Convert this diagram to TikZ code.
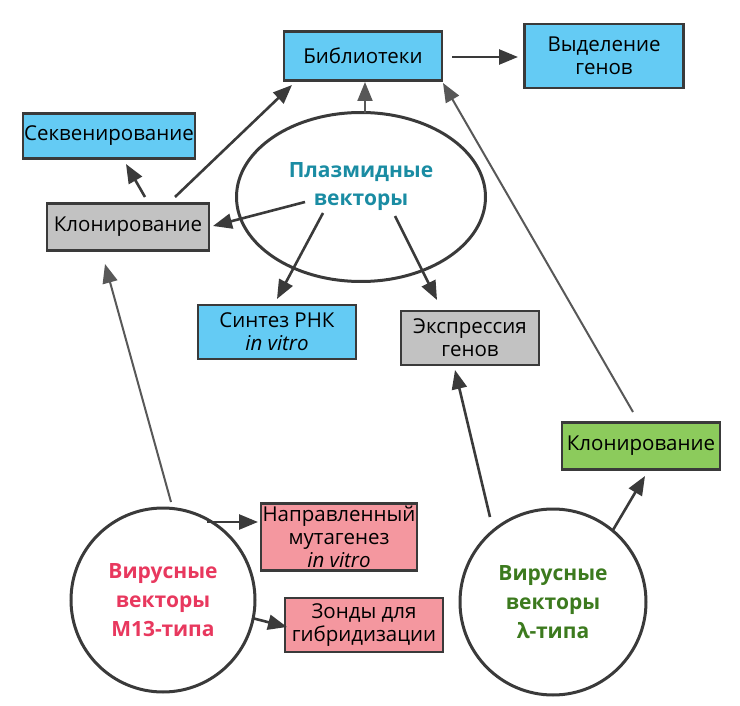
\documentclass[tikz,border=0pt]{standalone}
\usepackage{fontspec}
\setmainfont{Open Sans}
\usetikzlibrary{arrows.meta,shapes.geometric}
\definecolor{bluebox}{HTML}{64CBF4}
\definecolor{graybox}{HTML}{C2C2C2}
\definecolor{greenbox}{HTML}{8CCB5C}
\definecolor{pinkbox}{HTML}{F4979F}
\definecolor{edge}{HTML}{3A3A3A}
\definecolor{tealtxt}{HTML}{1A8CA3}
\definecolor{redtxt}{HTML}{E8385E}
\definecolor{greentxt}{HTML}{3C7A1E}
\begin{document}
\begin{tikzpicture}[x=1pt,y=-1pt,
  box/.style={draw=edge,line width=2.6pt,inner sep=0pt,align=center,
    font=\fontsize{20.5}{23}\selectfont},
  circ/.style={draw=edge,line width=3pt,circle,inner sep=0pt,align=center,
    font=\fontsize{21}{29}\selectfont\bfseries},
  arr/.style={draw=edge,line width=2.6pt,-{Triangle[length=19pt,width=15pt]}},
  thinarr/.style={draw=edge!85,line width=2pt,-{Triangle[length=19pt,width=15pt]}}]
\useasboundingbox (0,0) rectangle (740,706);
% nodes
\node[box,fill=bluebox,minimum width=158pt,minimum height=49pt] (lib) at (363,56) {Библиотеки};
\node[box,fill=bluebox,minimum width=159pt,minimum height=64pt] (vyd) at (604,56) {Выделение\\генов};
\node[box,fill=bluebox,minimum width=172pt,minimum height=45pt] (seq) at (109,136) {Секвенирование};
\node[box,fill=graybox,minimum width=162pt,minimum height=47pt] (klon) at (128,227) {Клонирование};
\node[draw=edge,line width=3pt,ellipse,minimum width=249pt,minimum height=169pt,inner sep=0pt,
  label={[font=\fontsize{21}{28}\selectfont\bfseries,text=tealtxt,align=center,yshift=10pt]center:Плазмидные\\векторы}] (plas) at (361,197) {};
\node[box,fill=bluebox,minimum width=158pt,minimum height=54pt] (sint) at (277,332) {Синтез РНК\\\itshape in vitro};
\node[box,fill=graybox,minimum width=138pt,minimum height=54pt] (expr) at (470,338) {Экспрессия\\генов};
\node[box,fill=greenbox,minimum width=158pt,minimum height=47pt] (klong) at (641,446) {Клонирование};
\node[circ,text=redtxt,minimum size=184pt] (m13) at (163,600) {Вирусные\\векторы\\М13-типа};
\node[box,fill=pinkbox,minimum width=156pt,minimum height=67pt] (mut) at (339,537) {Направленный\\мутагенез\\\itshape in vitro};
\node[box,fill=pinkbox,minimum width=158pt,minimum height=54pt] (zond) at (364,625) {Зонды для\\гибридизации};
\node[circ,text=greentxt,minimum size=186pt] (lam) at (553,602) {Вирусные\\векторы\\λ-типа};
% connector end points
\coordinate (libR) at (452,57);
\coordinate (vydL) at (518,57);
\coordinate (plasT) at (365,113);
\coordinate (libB) at (365,82);
\coordinate (klonA) at (175,197);
\coordinate (libBL) at (292,85);
\coordinate (klonB) at (145,197);
\coordinate (seqB) at (126,164);
\coordinate (plasL) at (305,202);
\coordinate (klonR) at (213,226);
\coordinate (plasS) at (323,213);
\coordinate (sintT) at (277,299);
\coordinate (plasE) at (395,216);
\coordinate (exprT) at (437,300);
\coordinate (m13T) at (171,502);
\coordinate (klonBot) at (105,264);
\coordinate (m13R) at (207,522);
\coordinate (mutL) at (258,522);
\coordinate (m13Z) at (252,618);
\coordinate (zondL) at (287,627);
\coordinate (lamT) at (490,517);
\coordinate (exprB) at (455,370);
\coordinate (lamR) at (613,530);
\coordinate (klongB) at (645,476);
\coordinate (klongT) at (633,412);
\coordinate (libBR) at (443,83);
% connectors
\draw[arr] (libR) -- (vydL);
\draw[thinarr] (plasT) -- (libB);
\draw[arr] (klonA) -- (libBL);
\draw[arr] (klonB) -- (seqB);
\draw[arr] (plasL) -- (klonR);
\draw[arr] (plasS) -- (sintT);
\draw[arr] (plasE) -- (exprT);
\draw[thinarr] (m13T) -- (klonBot);
\draw[arr] (m13R) -- (mutL);
\draw[arr] (m13Z) -- (zondL);
\draw[arr] (lamT) -- (exprB);
\draw[arr] (lamR) -- (klongB);
\draw[thinarr] (klongT) -- (libBR);
\end{tikzpicture}
\end{document}
